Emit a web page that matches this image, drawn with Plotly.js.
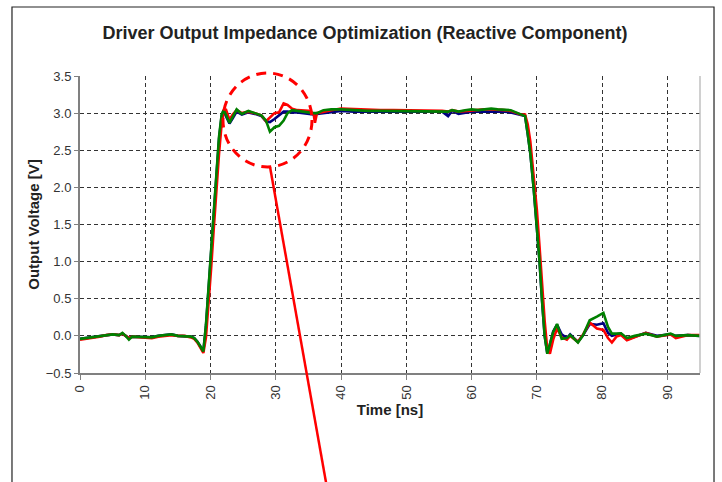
<!DOCTYPE html>
<html>
<head>
<meta charset="utf-8">
<script src="https://cdn.plot.ly/plotly-3.0.1.min.js"></script>
<style>html,body{margin:0;padding:0;background:#fff;}#chart{width:722px;height:482px;}</style>
</head>
<body>
<div id="chart"></div>
<script>
// Time samples [ns]
const timeNs = [0,1,2,3,4,5,6,6.5,7,7.5,8,9,10,11,12,13,14,15,16,17,17.5,18,18.5,18.9,19.3,19.7,20.1,20.5,20.9,21.3,21.7,22.0,22.4,22.9,23.4,24.0,24.8,25.8,26.8,27.8,28.5,29.1,29.8,30.5,31.2,31.8,32.5,33.3,34.2,35.0,35.8,36.0,36.3,37.3,38.5,40,42,44,46,48,50,52,54,55.5,56.4,57,58,59,60,61,62,63,64,65,66,66.8,67.6,68.2,68.6,69.0,69.5,70.0,70.4,70.8,71.2,71.6,72.0,72.5,73.1,73.8,74.6,75.1,75.6,76.3,77.1,78.1,79.2,80.2,80.9,81.5,82.2,82.9,83.8,85,86.7,88.4,90.5,91.3,93.1,95];

const blueV = [-0.04,-0.03,-0.02,0.0,0.01,0.02,0.01,0.03,0.0,-0.03,-0.01,-0.01,-0.01,-0.02,0.0,0.01,0.02,0.0,0.0,-0.01,-0.03,-0.08,-0.15,-0.21,0.13,0.65,1.17,1.70,2.23,2.65,2.96,3.04,2.95,2.86,2.93,3.02,2.98,3.01,2.99,2.96,2.89,2.88,2.92,2.97,3.02,3.02,3.01,3.01,3.00,3.00,2.99,2.98,2.99,3.00,3.02,3.03,3.02,3.02,3.01,3.02,3.02,3.02,3.01,3.02,2.96,3.03,2.99,3.01,3.02,3.02,3.02,3.03,3.02,3.02,3.01,2.99,2.97,2.96,2.72,2.46,2.00,1.51,1.02,0.47,0.0,-0.23,-0.12,0.06,0.15,0.02,-0.03,0.02,-0.02,-0.08,0.01,0.16,0.15,0.17,0.04,0.0,0.02,0.03,-0.05,-0.01,0.04,0.0,0.02,0.0,0.01,0.0];

const redV = [-0.05,-0.04,-0.03,-0.01,0.01,0.02,0.01,0.03,0.0,-0.03,-0.01,-0.02,-0.02,-0.03,-0.01,0.0,0.01,0.0,0.0,-0.02,-0.04,-0.09,-0.17,-0.23,-0.02,0.42,0.92,1.45,1.98,2.45,2.85,3.02,3.04,2.91,2.98,3.04,3.00,3.02,3.00,2.97,2.89,2.94,3.00,3.01,3.13,3.11,3.06,3.04,3.04,3.03,2.99,2.87,3.00,3.02,3.04,3.06,3.05,3.04,3.04,3.04,3.04,3.03,3.03,3.03,3.02,3.04,3.02,3.03,3.04,3.05,3.05,3.05,3.04,3.04,3.03,3.01,2.98,2.98,2.85,2.62,2.17,1.70,1.22,0.70,0.20,-0.18,-0.24,-0.05,0.10,-0.02,-0.05,0.0,-0.03,-0.08,0.02,0.18,0.10,0.08,-0.03,-0.09,-0.01,0.01,-0.06,-0.02,0.04,-0.01,0.02,-0.03,0.01,0.01];

const greenV = [-0.04,-0.03,-0.02,0.0,0.01,0.02,0.01,0.04,0.0,-0.05,-0.01,-0.01,-0.01,-0.02,0.0,0.01,0.02,0.0,0.0,-0.01,-0.03,-0.08,-0.15,-0.21,0.15,0.68,1.20,1.73,2.26,2.68,2.98,3.04,2.97,2.87,2.95,3.05,2.99,3.03,3.00,2.97,2.90,2.75,2.81,2.83,2.90,3.00,3.04,3.03,3.01,3.01,3.00,3.00,3.00,3.04,3.05,3.05,3.04,3.03,3.03,3.03,3.03,3.03,3.03,3.03,3.02,3.04,3.02,3.04,3.05,3.04,3.05,3.06,3.05,3.04,3.04,3.01,2.98,2.96,2.72,2.46,2.00,1.51,1.02,0.47,0.0,-0.24,-0.12,0.05,0.16,-0.04,-0.03,0.01,-0.03,-0.09,0.01,0.21,0.26,0.31,0.12,0.03,0.03,0.035,-0.03,0.0,0.03,-0.01,0.03,0.0,0.01,0.0];

const xTicks = [0,10,20,30,40,50,60,70,80,90];
const yTicks = [-0.5,0.0,0.5,1.0,1.5,2.0,2.5,3.0,3.5];

const fontFam = '"Liberation Sans", Arial, sans-serif';
const mk = (y, color) => ({x: timeNs, y: y, type: 'scatter', mode: 'lines',
  line: {color: color, width: 2.6}, hoverinfo: 'skip'});

const data = [mk(blueV, '#000080'), mk(redV, '#ff0000'), mk(greenV, '#008000')];

const axisCommon = {
  showgrid: true, gridcolor: '#333', gridwidth: 1, griddash: '4px,3px',
  showline: true, linecolor: '#808080', linewidth: 2,
  ticks: 'outside', ticklen: 5, tickcolor: '#808080', tickwidth: 1,
  zeroline: false, tickfont: {family: fontFam, size: 13, color: '#333'}
};

const layout = {
  width: 722, height: 482,
  margin: {l: 80, r: 22, t: 76, b: 109},
  paper_bgcolor: '#fff', plot_bgcolor: '#fff',
  showlegend: false,
  title: {text: 'Driver Output Impedance Optimization (Reactive Component)',
    x: 0.5055, xref: 'container', xanchor: 'center',
    y: 0.932, yref: 'container', yanchor: 'middle',
    font: {family: fontFam, size: 18, color: '#222', weight: 700}},
  xaxis: Object.assign({}, axisCommon, {
    range: [0, 95], tickvals: xTicks, tickangle: -90,
    title: {text: 'Time [ns]', standoff: 6, font: {family: fontFam, size: 15, color: '#222', weight: 700}}
  }),
  yaxis: Object.assign({}, axisCommon, {
    range: [-0.5, 3.5], tickvals: yTicks, tickformat: '.1f', ticklen: 4,
    title: {text: 'Output Voltage [V]', standoff: 2, font: {family: fontFam, size: 15, color: '#222', weight: 700}}
  }),
  shapes: [
    {type: 'line', xref: 'paper', yref: 'paper', x0: 1, x1: 1, y0: 0, y1: 1,
      line: {color: '#c0c0c0', width: 1.5}},
    {type: 'rect', xref: 'paper', yref: 'paper', x0: -0.1097, x1: 1.0226, y0: -0.6, y1: 1.2323,
      line: {color: '#222', width: 1.2}, fillcolor: 'rgba(0,0,0,0)'},
    {type: 'circle', xref: 'paper', yref: 'paper', x0: 0.2306, x1: 0.3742, y0: 0.6936, y1: 1.0101,
      line: {color: '#ff0000', width: 3, dash: '10px,7px'}},
    {type: 'line', xref: 'paper', yref: 'paper', x0: 0.3065, y0: 0.6936, x1: 0.399, y1: -0.394,
      line: {color: '#ff0000', width: 2.5}}
  ]
};

Plotly.newPlot('chart', data, layout, {displayModeBar: false, staticPlot: true});
</script>
</body>
</html>
